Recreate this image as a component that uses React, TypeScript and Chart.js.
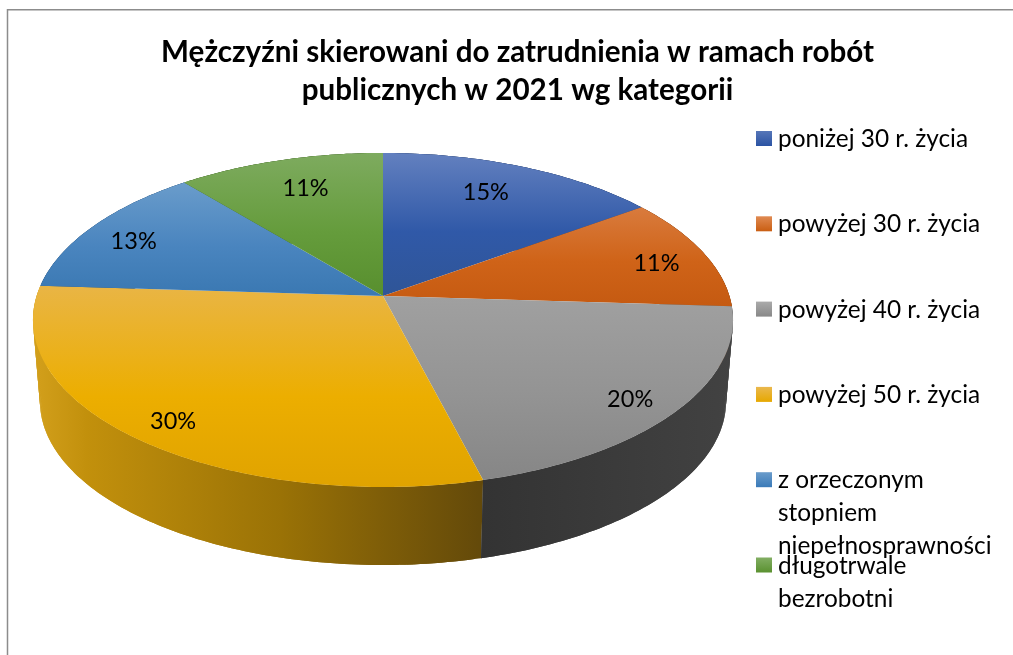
import React, { useEffect, useRef } from "react";
import { Chart, registerables, layouts } from "chart.js";

Chart.register(...registerables);

const titleLines = ["Mężczyźni skierowani do zatrudnienia w ramach robót", "publicznych w 2021 wg kategorii"];
const categories: (string | string[])[] = [
  "poniżej 30 r. życia",
  "powyżej 30 r. życia",
  "powyżej 40 r. życia",
  "powyżej 50 r. życia",
  ["z orzeczonym", "stopniem", "niepełnosprawności"],
  ["długotrwale", "bezrobotni"],
];
const percentages = [15, 11, 20, 30, 13, 11];

const topStops = [
  ["#6380bf", "#2f5597"],
  ["#d97b3d", "#c55a11"],
  ["#a0a0a0", "#868686"],
  ["#e9b545", "#e0a300"],
  ["#6a9ccb", "#3a78b2"],
  ["#7eab5f", "#588f2e"],
];
const topMidStops = ["#3059a8", "#cf6318", "#939393", "#ecae00", "#4a85bf", "#659c3c"];
const wallStops = [
  ["#1d3766", "#1d3766"],
  ["#7d3a0b", "#7d3a0b"],
  ["#333333", "#424242"],
  ["#d3a01c", "#63490a"],
  ["#255079", "#255079"],
  ["#3a5f1f", "#3a5f1f"],
];
const swatchStops = [
  ["#5676b8", "#2b53a3"],
  ["#e08a52", "#c95e12"],
  ["#aaaaaa", "#888888"],
  ["#eab84e", "#e6a800"],
  ["#6a9ccb", "#3a7ab8"],
  ["#82ae63", "#5a9130"],
];
const labelNudges = [
  [-19, 9],
  [-3, 5],
  [-2, 6],
  [0, 6],
  [2, 6],
  [13, 11],
];

const FONT = "Lato, Carlito, sans-serif";
const K = 0.1437; // perspective strength
const RX = 1.9033; // horizontal radius / arc radius
const RY = 0.8989; // vertical radius / arc radius
const BOTTOM_SCALE = 0.98;
const BOTTOM_DROP = 81.8;
const LABEL_FRACTION = 0.86;

type Pt = [number, number];

const pie3d = {
  id: "pie3d",
  beforeDraw(chart: any) {
    const { ctx, width, height } = chart;
    ctx.save();
    ctx.strokeStyle = "#8c8c8c";
    ctx.lineWidth = 1.5;
    ctx.beginPath();
    ctx.moveTo(7.5, height);
    ctx.lineTo(7.5, 9.75);
    ctx.lineTo(width, 9.75);
    ctx.stroke();
    ctx.restore();
  },
  beforeDatasetDraw(chart: any, args: any) {
    const { ctx } = chart;
    const arcs = args.meta.data;
    const cx = arcs[0].x;
    const cy = arcs[0].y;
    const r = arcs[0].outerRadius;
    const project = (theta: number, f = 1): Pt => {
      const u = Math.sin(theta) * f;
      const v = -Math.cos(theta) * f;
      const w = 1 - K * v;
      return [(r * RX * u) / w, (r * RY * v) / w];
    };
    const rimPoint = (t: number): Pt => {
      const p = project(t);
      return [cx + p[0], cy + p[1]];
    };
    const basePoint = (t: number): Pt => {
      const p = project(t);
      return [cx + p[0] * BOTTOM_SCALE, cy + p[1] * BOTTOM_SCALE + BOTTOM_DROP];
    };
    const sweep = (a: number, b: number): number[] => {
      const n = Math.max(2, Math.ceil(((b - a) * 180) / Math.PI));
      const out: number[] = [];
      for (let i = 0; i <= n; i++) out.push(a + ((b - a) * i) / n);
      return out;
    };
    const angles = arcs.map((a: any) => [a.startAngle + Math.PI / 2, a.endAngle + Math.PI / 2]);

    ctx.save();
    // walls, back to front: overlapping strips so the silhouette is the hull of both rims
    const wallOrder = [0, 5, 4, 1, 3, 2];
    for (const i of wallOrder) {
      const [a, b] = angles[i];
      const ts = sweep(a, b);
      const rim = ts.map(rimPoint);
      const base = ts.map(basePoint);
      const xs = [...rim, ...base].map((p) => p[0]);
      const g = ctx.createLinearGradient(Math.min(...xs), 0, Math.max(...xs), 0);
      g.addColorStop(0, wallStops[i][0]);
      if (i === 3) {
        g.addColorStop(0.12, "#c2900c");
        g.addColorStop(0.55, "#9a7206");
      }
      g.addColorStop(1, wallStops[i][1]);
      ctx.fillStyle = g;
      for (let j = 0; j < ts.length - 1; j++) {
        const e = Math.min(j + 2, ts.length - 1);
        ctx.beginPath();
        ctx.moveTo(rim[j][0], rim[j][1]);
        for (let m = j + 1; m <= e; m++) ctx.lineTo(rim[m][0], rim[m][1]);
        for (let m = e; m >= j; m--) ctx.lineTo(base[m][0], base[m][1]);
        ctx.closePath();
        ctx.fill();
      }
    }
    // top faces
    angles.forEach(([a, b]: number[], i: number) => {
      const rim = sweep(a, b).map(rimPoint);
      const ys = rim.map((p) => p[1]).concat([cy]);
      const g = ctx.createLinearGradient(0, Math.min(...ys), 0, Math.max(...ys));
      g.addColorStop(0, topStops[i][0]);
      g.addColorStop(0.55, topMidStops[i]);
      g.addColorStop(1, topStops[i][1]);
      ctx.fillStyle = g;
      ctx.beginPath();
      ctx.moveTo(cx, cy);
      rim.forEach((p) => ctx.lineTo(p[0], p[1]));
      ctx.closePath();
      ctx.fill();
    });
    // percentage labels
    ctx.fillStyle = "#000";
    ctx.font = `23.5px ${FONT}`;
    ctx.textAlign = "center";
    ctx.textBaseline = "middle";
    angles.forEach(([a, b]: number[], i: number) => {
      const p = project((a + b) / 2, LABEL_FRACTION);
      ctx.fillText(
        `${chart.data.datasets[0].data[i]}%`,
        cx + p[0] + labelNudges[i][0],
        cy + p[1] + labelNudges[i][1]
      );
    });
    ctx.restore();
    return false;
  },
  start(chart: any) {
    const box: any = {
      position: "right",
      weight: 0,
      fullSize: false,
      options: {},
      left: 0,
      top: 0,
      right: 0,
      bottom: 0,
      width: 0,
      height: 0,
      isHorizontal: () => false,
      update(_w: number, h: number) {
        this.width = 269;
        this.height = h;
      },
      draw() {
        const { ctx } = chart;
        ctx.save();
        ctx.font = `24.4px ${FONT}`;
        ctx.textAlign = "left";
        ctx.textBaseline = "alphabetic";
        const x = this.left + 12;
        (chart.data.labels as (string | string[])[]).forEach((label, i) => {
          const top = 131 + 85.3 * i;
          const g = ctx.createLinearGradient(0, top, 0, top + 15);
          g.addColorStop(0, swatchStops[i][0]);
          g.addColorStop(1, swatchStops[i][1]);
          ctx.fillStyle = g;
          ctx.fillRect(x, top, 16, 15);
          ctx.fillStyle = "#000";
          const lines = Array.isArray(label) ? label : [label];
          lines.forEach((line, j) => ctx.fillText(line, x + 22, top + 16 + 33 * j));
        });
        ctx.restore();
      },
    };
    layouts.addBox(chart, box);
  },
};

export default function App() {
  const ref = useRef<HTMLCanvasElement>(null);
  useEffect(() => {
    const chart = new Chart(ref.current as HTMLCanvasElement, {
      type: "pie",
      data: {
        labels: categories as any,
        datasets: [{ data: percentages, borderWidth: 0 }],
      },
      options: {
        responsive: false,
        animation: false,
        layout: { padding: { left: 22, right: 0, top: 0, bottom: 177 } },
        plugins: {
          legend: { display: false },
          tooltip: { enabled: false },
          title: {
            display: true,
            text: titleLines,
            color: "#000",
            font: { family: FONT, size: 29.6, weight: "bold", lineHeight: 38 / 29.6 },
            padding: { top: 33, bottom: 5 },
          },
        },
      },
      plugins: [pie3d as any],
    });
    return () => chart.destroy();
  }, []);
  return (
    <div style={{ position: "fixed", left: 0, top: 0, width: 1013, height: 655, background: "#fff", overflow: "hidden" }}>
      <canvas ref={ref} width={1013} height={655} style={{ display: "block" }} />
    </div>
  );
}
